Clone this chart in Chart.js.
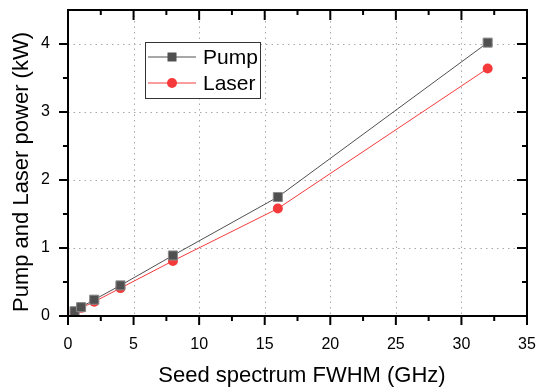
<!DOCTYPE html>
<html>
<head>
<meta charset="utf-8">
<script src="https://cdn.jsdelivr.net/npm/chart.js@4/dist/chart.umd.min.js"></script>
<style>
  html, body { margin: 0; padding: 0; background: #fff; }
  #wrap { width: 536px; height: 391px; }
</style>
</head>
<body>
<div id="wrap"><canvas id="chart" width="536" height="391"></canvas></div>
<script>
const fwhm = [0.5, 1, 2, 4, 8, 16, 32];
const pumpPower = [0.07, 0.13, 0.24, 0.45, 0.89, 1.75, 4.02];
const laserPower = [0.06, 0.12, 0.21, 0.41, 0.81, 1.58, 3.64];
const xTicks = [0, 5, 10, 15, 20, 25, 30, 35];
const yTicks = [0, 1, 2, 3, 4];
const xMinor = [2.5, 7.5, 12.5, 17.5, 22.5, 27.5, 32.5];
const yMinor = [0.5, 1.5, 2.5, 3.5];
const xTitle = "Seed spectrum FWHM (GHz)";
const yTitle = "Pump and Laser power (kW)";

const FONT = "'Liberation Sans', Arial, sans-serif";
const PUMP = "#505050";
const LASER = "#f43a3a";

// frame, inward/outward ticks and dotted grid, drawn off the scales
const framePlugin = {
  id: "frame",
  beforeDatasetsDraw(chart) {
    const { ctx, chartArea: a, scales: { x, y } } = chart;
    ctx.save();
    ctx.strokeStyle = "#a8a8a8";
    ctx.lineWidth = 1;
    ctx.setLineDash([1.5, 4]);
    xTicks.slice(1, -1).forEach((v) => {
      const px = Math.round(x.getPixelForValue(v)) + 0.5;
      ctx.beginPath(); ctx.moveTo(px, a.top); ctx.lineTo(px, a.bottom); ctx.stroke();
    });
    yTicks.slice(1).forEach((v) => {
      const py = Math.round(y.getPixelForValue(v)) + 0.5;
      ctx.beginPath(); ctx.moveTo(a.left, py); ctx.lineTo(a.right, py); ctx.stroke();
    });
    ctx.restore();
  },
  afterDatasetsDraw(chart) {
    const { ctx, chartArea: a, scales: { x, y } } = chart;
    ctx.save();
    ctx.strokeStyle = "#000";
    ctx.lineWidth = 2;
    ctx.strokeRect(a.left, a.top, a.right - a.left, a.bottom - a.top);
    const tick = (x1, y1, x2, y2) => {
      ctx.beginPath(); ctx.moveTo(x1, y1); ctx.lineTo(x2, y2); ctx.stroke();
    };
    xTicks.forEach((v) => {
      const px = x.getPixelForValue(v);
      tick(px, a.bottom, px, a.bottom + 9);
      tick(px, a.top, px, a.top + 10);
    });
    xMinor.forEach((v) => {
      const px = x.getPixelForValue(v);
      tick(px, a.bottom, px, a.bottom + 5);
      tick(px, a.top, px, a.top + 5);
    });
    yTicks.forEach((v) => {
      const py = y.getPixelForValue(v);
      tick(a.left - 9, py, a.left, py);
      tick(a.right - 10, py, a.right, py);
    });
    yMinor.forEach((v) => {
      const py = y.getPixelForValue(v);
      tick(a.left - 5, py, a.left, py);
      tick(a.right - 5, py, a.right, py);
    });

    // axis titles
    ctx.fillStyle = "#000";
    ctx.font = "22px " + FONT;
    ctx.textAlign = "center";
    ctx.textBaseline = "alphabetic";
    ctx.fillText(xTitle, 302, 382);
    ctx.translate(28, 172);
    ctx.rotate(-Math.PI / 2);
    ctx.fillText(yTitle, 0, 0);
    ctx.restore();
  }
};

// boxed legend in the upper left of the plot
const legendPlugin = {
  id: "boxLegend",
  afterDraw(chart) {
    const { ctx } = chart;
    const box = { x: 145, y: 42, w: 115, h: 56 };
    ctx.save();
    ctx.fillStyle = "#fff";
    ctx.fillRect(box.x, box.y, box.w, box.h);
    ctx.strokeStyle = "#333";
    ctx.lineWidth = 1;
    ctx.strokeRect(box.x + 0.5, box.y + 0.5, box.w, box.h);
    chart.data.datasets.forEach((ds, i) => {
      const cy = box.y + 15 + i * 26;
      ctx.strokeStyle = ds.borderColor;
      ctx.lineWidth = 1;
      ctx.beginPath(); ctx.moveTo(148, cy); ctx.lineTo(196, cy); ctx.stroke();
      ctx.fillStyle = ds.backgroundColor;
      if (ds.pointStyle === "rect") {
        ctx.fillRect(172 - 4.5, cy - 4.5, 9, 9);
      } else {
        ctx.beginPath(); ctx.arc(172, cy, 5, 0, Math.PI * 2); ctx.fill();
      }
      ctx.fillStyle = "#000";
      ctx.font = "21px " + FONT;
      ctx.textBaseline = "middle";
      ctx.fillText(ds.label, 203, cy + 1);
    });
    ctx.restore();
  }
};

const noPad = (s) => {
  s.paddingLeft = 0; s.paddingRight = 0; s.paddingTop = 0; s.paddingBottom = 0;
};

new Chart(document.getElementById("chart"), {
  type: "line",
  data: {
    datasets: [
      {
        label: "Pump",
        data: fwhm.map((v, i) => ({ x: v, y: pumpPower[i] })),
        borderColor: PUMP,
        backgroundColor: PUMP,
        borderWidth: 1,
        pointStyle: "rect",
        pointRadius: 6.4,
        pointBorderColor: "#8a8a8a",
        pointBorderWidth: 1,
        tension: 0
      },
      {
        label: "Laser",
        data: fwhm.map((v, i) => ({ x: v, y: laserPower[i] })),
        borderColor: LASER,
        backgroundColor: LASER,
        borderWidth: 1,
        pointStyle: "circle",
        pointRadius: 5,
        pointBorderWidth: 0,
        tension: 0
      }
    ]
  },
  options: {
    responsive: false,
    animation: false,
    layout: { padding: { top: 10, right: 9, left: 0, bottom: 0 } },
    plugins: { legend: { display: false }, tooltip: { enabled: false } },
    scales: {
      x: {
        type: "linear",
        min: 0,
        max: 35,
        afterBuildTicks: (s) => { s.ticks = xTicks.map((v) => ({ value: v })); },
        afterFit: (s) => { s.height = 75; noPad(s); },
        grid: { display: false, drawTicks: false },
        border: { display: false },
        ticks: { color: "#000", padding: 19, font: { family: FONT, size: 16 }, maxRotation: 0 }
      },
      y: {
        type: "linear",
        min: 0,
        max: 4.5,
        afterBuildTicks: (s) => { s.ticks = yTicks.map((v) => ({ value: v })); },
        afterFit: (s) => { s.width = 68; noPad(s); },
        grid: { display: false, drawTicks: false },
        border: { display: false },
        ticks: { color: "#000", padding: 18, font: { family: FONT, size: 16 } }
      }
    }
  },
  plugins: [framePlugin, legendPlugin]
});
</script>
</body>
</html>
